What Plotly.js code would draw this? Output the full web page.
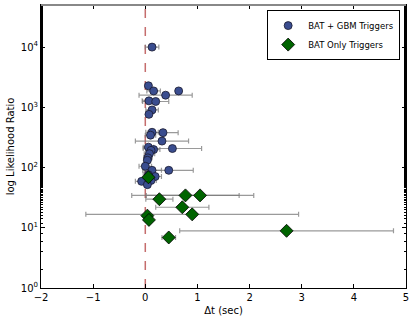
<!DOCTYPE html>
<html>
<head>
<meta charset="utf-8">
<script src="https://cdn.plot.ly/plotly-3.0.1.min.js"></script>
<style>
  html, body { margin: 0; padding: 0; background: #fff; }
  #chart { width: 416px; height: 321px; }
</style>
</head>
<body>
<div id="chart"></div>
<script>
// BAT + GBM triggers: time offset, its error, likelihood ratio
var gbm_dt  = [0.13, 0.06, 0.16, 0.64, 0.39, 0.07, 0.20, 0.13, 0.07, 0.13, 0.34, 0.10, 0.32, 0.06, 0.52, 0.16, 0.11, 0.08, 0.05, 0.04, 0.00, 0.45, 0.13, 0.19, 0.06, -0.07, 0.11, 0.04];
var gbm_err = [0.13, 0.03, 0.13, 0.00, 0.51, 0.13, 0.25, 0.12, 0.03, 0.12, 0.29, 0.10, 0.51, 0.10, 0.56, 0.12, 0.10, 0.10, 0.08, 0.06, 0.12, 0.47, 0.18, 0.12, 0.10, 0.12, 0.10, 0.05];
var gbm_llr = [10000, 2280, 1870, 1870, 1590, 1280, 1250, 905, 765, 385, 380, 345, 275, 218, 207, 199, 193, 170, 145, 132, 105, 90, 90, 71, 76, 59, 61, 52];

// BAT only triggers
var bat_dt  = [0.06, 0.77, 1.05, 0.27, 0.71, 0.90, 0.04, 0.07, 2.71, 0.45];
var bat_err = [0.05, 1.03, 1.03, 0.26, 0.51, 2.04, 0.05, 0.03, 2.05, 0.13];
var bat_llr = [69, 34.5, 34.5, 29.8, 21.9, 16.7, 15.9, 13.5, 8.9, 6.9];

var ytickvals = [1, 10, 100, 1000, 10000];
var yticktext = ['10<sup>0</sup>', '10<sup>1</sup>', '10<sup>2</sup>', '10<sup>3</sup>', '10<sup>4</sup>'];

var errStyle = {type: 'data', symmetric: true, color: 'rgba(120,120,120,0.75)', thickness: 1.2, width: 2.5};

var trace1 = {
  x: gbm_dt,
  y: gbm_llr,
  name: 'BAT + GBM Triggers',
  type: 'scatter',
  mode: 'markers',
  error_x: Object.assign({array: gbm_err}, errStyle),
  marker: {symbol: 'circle', size: 8, color: '#3a4d8f', line: {color: '#1a1a2e', width: 0.8}}
};

var trace2 = {
  x: bat_dt,
  y: bat_llr,
  name: 'BAT Only Triggers',
  type: 'scatter',
  mode: 'markers',
  error_x: Object.assign({array: bat_err}, errStyle),
  marker: {symbol: 'diamond', size: 10, color: '#006400', line: {color: '#000', width: 0.8}}
};

var layout = {
  width: 416,
  height: 321,
  margin: {l: 41, r: 10, t: 5, b: 33},
  paper_bgcolor: '#fff',
  plot_bgcolor: '#fff',
  font: {family: 'DejaVu Sans', size: 11, color: '#000'},
  showlegend: true,
  legend: {
    x: 0.984, y: 0.982, xanchor: 'right', yanchor: 'top',
    bgcolor: '#fff', bordercolor: '#000', borderwidth: 1,
    font: {size: 8.5}, itemwidth: 30, tracegroupgap: 0
  },
  xaxis: {
    range: [-2, 5],
    dtick: 1,
    showgrid: false, zeroline: false,
    showline: true, linecolor: '#000', linewidth: 1, mirror: 'ticks',
    ticks: 'inside', ticklen: 4, tickcolor: '#000',
    tickfont: {size: 10},
    title: {text: 'Δt (sec)', font: {size: 10}, standoff: 4}
  },
  yaxis: {
    type: 'log',
    range: [0, Math.log10(50000)],
    tickvals: ytickvals,
    ticktext: yticktext,
    showgrid: false, zeroline: false,
    showline: true, linecolor: '#000', linewidth: 1, mirror: 'ticks',
    ticks: 'inside', ticklen: 4, tickcolor: '#000',
    minor: {ticks: 'inside', ticklen: 2, tickcolor: '#000', showgrid: false},
    tickfont: {size: 10},
    title: {text: 'log Likelihood Ratio', font: {size: 10}, standoff: 4}
  },
  shapes: [
    {type: 'line', xref: 'x', yref: 'paper', x0: 0, x1: 0, y0: 0, y1: 1,
     line: {color: 'rgba(178,60,60,0.75)', width: 1.5, dash: 'dash'}, layer: 'below'},
    {type: 'line', xref: 'paper', yref: 'paper', x0: 0, x1: 1, y0: 1, y1: 1,
     line: {color: '#888', width: 2}}
  ]
};

Plotly.newPlot('chart', [trace1, trace2], layout, {displayModeBar: false, staticPlot: true});
</script>
</body>
</html>
